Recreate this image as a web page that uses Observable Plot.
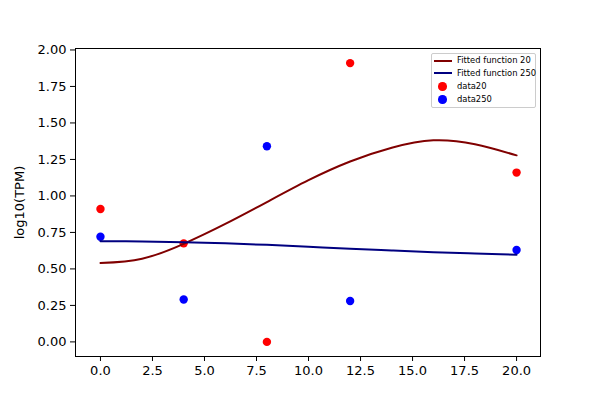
<!DOCTYPE html>
<html>
<head>
<meta charset="utf-8">
<script src="https://cdn.jsdelivr.net/npm/d3@7"></script>
<script src="https://cdn.jsdelivr.net/npm/@observablehq/plot@0.6"></script>
<style>
  body { margin: 0; background: #fff; }
  #wrap { position: relative; width: 600px; height: 400px; font-family: "DejaVu Sans", sans-serif; }
  #legend { position: absolute; left: 431px; top: 53px; width: 105px; height: 55px; box-sizing: border-box;
            border: 1px solid #cccccc; border-radius: 2px; background: rgba(255,255,255,0.8); font-size: 8.4px; color: #000; }
  .sw { position: absolute; left: 2px; width: 18px; height: 2px; }
  .dt { position: absolute; left: 6px; width: 8.5px; height: 8.5px; border-radius: 50%; }
  .lb { position: absolute; left: 25px; line-height: 10px; white-space: nowrap; }
</style>
</head>
<body>
<div id="wrap"></div>
<script>
// Data
const sampleX = [0, 4, 8, 12, 20];
const data20 = [0.91, 0.675, 0.0, 1.91, 1.16];
const data250 = [0.72, 0.29, 1.34, 0.28, 0.63];
const fitX = [0, 2, 4, 6, 8, 10, 12, 14, 16, 18, 20];
const fit20 = [0.54, 0.57, 0.672, 0.808, 0.958, 1.108, 1.236, 1.33, 1.381, 1.354, 1.278];
const fit250 = [0.69, 0.688, 0.683, 0.675, 0.665, 0.652, 0.638, 0.626, 0.615, 0.606, 0.597];
const xTicks = [0, 2.5, 5, 7.5, 10, 12.5, 15, 17.5, 20];
const yTicks = [0, 0.25, 0.5, 0.75, 1, 1.25, 1.5, 1.75, 2];
const legendLabels = ["Fitted function 20", "Fitted function 250", "data20", "data250"];
const colors = { fit20: "#800000", fit250: "#000080", data20: "red", data250: "blue" };

const pts = (xsArr, ys) => xsArr.map((x, i) => ({ x, y: ys[i] }));

const chart = Plot.plot({
  width: 600,
  height: 400,
  marginLeft: 75,
  marginRight: 60,
  marginTop: 48,
  marginBottom: 44,
  style: { fontFamily: "DejaVu Sans, sans-serif", fontSize: "13px", color: "black", background: "white" },
  x: { domain: [-1.2, 21.15] },
  y: { domain: [-0.1, 2.01] },
  marks: [
    Plot.dot(pts(sampleX, data20), { x: "x", y: "y", r: 4.2, fill: colors.data20 }),
    Plot.dot(pts(sampleX, data250), { x: "x", y: "y", r: 4.2, fill: colors.data250 }),
    Plot.line(pts(fitX, fit20), { x: "x", y: "y", stroke: colors.fit20, strokeWidth: 2, curve: "natural" }),
    Plot.line(pts(fitX, fit250), { x: "x", y: "y", stroke: colors.fit250, strokeWidth: 2, curve: "natural" }),
    Plot.frame({ stroke: "black", strokeWidth: 1 }),
    Plot.axisX({ ticks: xTicks, tickFormat: d => d.toFixed(1), tickSize: 5, tickPadding: 4, label: null }),
    Plot.axisY({ ticks: yTicks, tickFormat: d => d.toFixed(2), tickSize: 5, tickPadding: 4,
                 label: "log10(TPM)", labelAnchor: "center", labelArrow: "none", labelOffset: 61 })
  ]
});
const wrap = document.getElementById("wrap");
wrap.appendChild(chart);

// Legend (matplotlib-style, inside upper right)
const legend = document.createElement("div");
legend.id = "legend";
const rowTops = [6.5, 19, 32.5, 45.5];
const keys = ["fit20", "fit250", "data20", "data250"];
keys.forEach((k, i) => {
  const c = rowTops[i];
  if (i < 2) {
    const s = document.createElement("div");
    s.className = "sw"; s.style.top = (c - 1) + "px"; s.style.background = colors[k];
    legend.appendChild(s);
  } else {
    const d = document.createElement("div");
    d.className = "dt"; d.style.top = (c - 4.25) + "px"; d.style.background = colors[k];
    legend.appendChild(d);
  }
  const t = document.createElement("div");
  t.className = "lb"; t.style.top = (c - 5.5) + "px"; t.textContent = legendLabels[i];
  legend.appendChild(t);
});
wrap.appendChild(legend);
</script>
</body>
</html>
